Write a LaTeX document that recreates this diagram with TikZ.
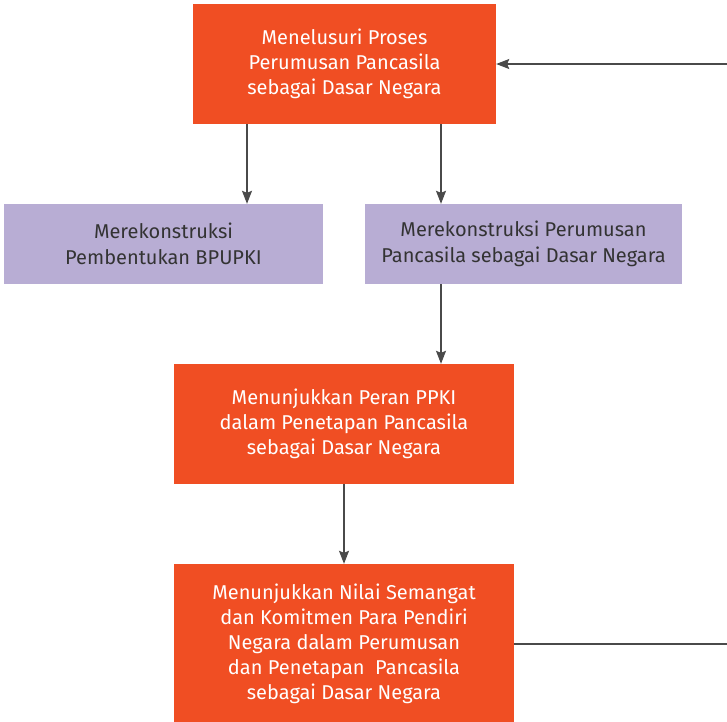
\documentclass[tikz,border=0pt]{standalone}
\usepackage{fontspec}
\setmainfont{Fira Sans}
\usetikzlibrary{arrows.meta}
\definecolor{boxOrange}{HTML}{F04E23}
\definecolor{boxPurple}{HTML}{B8ADD4}
\definecolor{lineGray}{HTML}{4A4A4A}
\definecolor{textGray}{HTML}{333333}

\begin{document}
\begin{tikzpicture}[x=1pt, y=-1pt,
    orangeNode/.style={rectangle, fill=boxOrange, text=white, align=center, inner sep=0pt,
      font=\fontsize{20}{25}\selectfont},
    purpleNode/.style={rectangle, fill=boxPurple, text=textGray, align=center, inner sep=0pt,
      minimum height=80pt, font=\fontsize{20}{26}\selectfont},
    arrow/.style={-{Stealth[length=13pt, width=10pt, inset=2pt]}, line width=1.2pt, draw=lineGray}]

  \useasboundingbox (0,0) rectangle (727,721);
  \clip (0,0) rectangle (727,721);

  % Boxes
  \node[orangeNode, minimum width=303pt, minimum height=120pt] (trace) at (344.5,64)
    {Menelusuri Proses\\Perumusan Pancasila\\sebagai Dasar Negara};
  \node[purpleNode, minimum width=319pt] (bpupki) at (163.5,244)
    {Merekonstruksi\\Pembentukan BPUPKI};
  \node[purpleNode, minimum width=317pt] (formula) at (523.5,244)
    {Merekonstruksi Perumusan\\Pancasila sebagai Dasar Negara};
  \node[orangeNode, minimum width=340pt, minimum height=120pt] (ppki) at (344,424)
    {Menunjukkan Peran PPKI\\dalam Penetapan Pancasila\\sebagai Dasar Negara};
  \node[orangeNode, minimum width=340pt, minimum height=160pt] (spirit) at (344,644)
    {Menunjukkan Nilai Semangat\\dan Komitmen Para Pendiri\\Negara dalam Perumusan\\dan Penetapan\ \ Pancasila\\sebagai Dasar Negara};
  \coordinate (loop) at (745,644);

  % Arrows
  \draw[arrow] (trace.south -| 247,0) -- (bpupki.north -| 247,0);
  \draw[arrow] (trace.south -| 441,0) -- (formula.north -| 441,0);
  \draw[arrow] (formula.south -| 441,0) -- (ppki.north -| 441,0);
  \draw[arrow] (ppki) -- (spirit);
  \draw[arrow] (spirit.east) -- (loop) |- (trace.east);

\end{tikzpicture}
\end{document}
